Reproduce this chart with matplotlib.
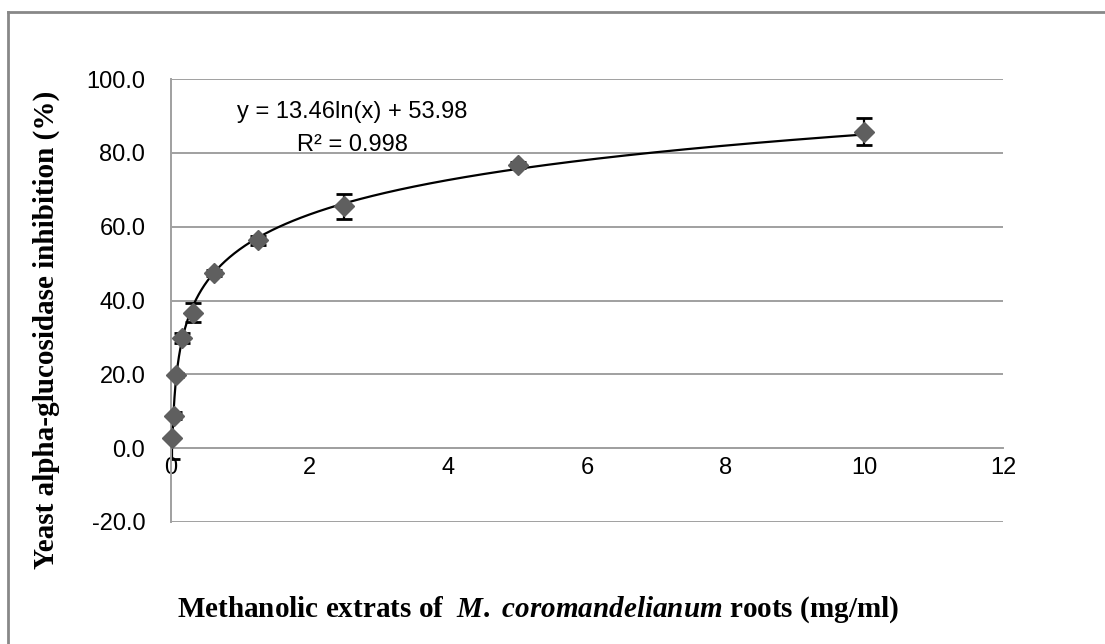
# Alpha-glucosidase inhibition vs extract concentration
import numpy as np
import matplotlib.pyplot as plt
from matplotlib.lines import Line2D

plt.rcParams['mathtext.fontset'] = 'custom'
plt.rcParams['mathtext.it'] = 'Liberation Serif:bold:italic'
plt.rcParams['mathtext.rm'] = 'Liberation Serif:bold'

# data
conc = [0.0195, 0.039, 0.078, 0.156, 0.3125, 0.625, 1.25, 2.5, 5, 10]
inhib = [2.7, 8.8, 19.8, 29.8, 36.7, 47.5, 56.3, 65.5, 76.8, 85.7]
err = [5.7, 1.0, 0.5, 1.3, 2.5, 0.8, 1.2, 3.3, 0.8, 3.7]

# log trendline shown on the chart
slope = 13.46
intercept = 53.98

xticks = [0, 2, 4, 6, 8, 10, 12]
yticks = [-20, 0, 20, 40, 60, 80, 100]

W, H = 1105, 644
fig = plt.figure(figsize=(W / 100, H / 100), dpi=100)

# plot area in pixels
left, right, top, bottom = 171, 1003, 79, 522
ax = fig.add_axes([left / W, 1 - bottom / H, (right - left) / W, (bottom - top) / H])

grid_col = '#a0a0a0'
ax.set_xlim(0, 12)
ax.set_ylim(-20, 100)
ax.set_yticks(yticks)
ax.set_xticks(xticks)
ax.yaxis.grid(True, color=grid_col, linewidth=1.4)
ax.set_axisbelow(True)

for s in ['top', 'right']:
    ax.spines[s].set_visible(False)
ax.spines['left'].set_color(grid_col)
ax.spines['left'].set_linewidth(1.4)
ax.spines['bottom'].set_position(('data', 0))
ax.spines['bottom'].set_color(grid_col)
ax.spines['bottom'].set_linewidth(1.4)

ax.tick_params(axis='both', length=0, labelsize=17)
ax.tick_params(axis='y', pad=18.5)
ax.tick_params(axis='x', pad=6)
ax.set_yticklabels(['%.1f' % v for v in yticks], fontfamily='Liberation Sans')
ax.set_xticklabels([str(v) for v in xticks], fontfamily='Liberation Sans')

# trendline
xs = np.geomspace(conc[0], conc[-1], 400)
ax.plot(xs, slope * np.log(xs) + intercept, color='black', linewidth=1.6, zorder=3)

# points with error bars
ax.errorbar(conc, inhib, yerr=err, fmt='none', ecolor='black',
            elinewidth=1.6, capsize=6, capthick=2, zorder=2)
ax.plot(conc, inhib, linestyle='none', marker='D', markersize=10,
        color='#5f5f5f', zorder=4, clip_on=False)

# equation
fig.text(352 / W, 1 - 112 / H, 'y = 13.46ln(x) + 53.98', ha='center', va='center',
         fontsize=17, fontfamily='Liberation Sans')
fig.text(352 / W, 1 - 145 / H, 'R² = 0.998', ha='center', va='center',
         fontsize=17, fontfamily='Liberation Sans')

# axis titles
fig.text(46 / W, 1 - 330 / H, 'Yeast alpha-glucosidase inhibition (%)', rotation=90,
         ha='center', va='center', fontsize=21, fontweight='bold', fontfamily='Liberation Serif')
fig.text(177 / W, 1 - 610 / H,
         r'Methanolic extrats of  $\mathit{M.}$ $\mathit{coromandelianum}$ roots (mg/ml)',
         ha='left', va='center', fontsize=21, fontweight='bold', fontfamily='Liberation Serif')

# chart border (partly cut off in the original)
fig.add_artist(Line2D([8 / W, 8 / W], [0, 1 - 12 / H], color='#888888', linewidth=2,
                      transform=fig.transFigure))
fig.add_artist(Line2D([8 / W, 1], [1 - 12 / H, 1 - 12 / H], color='#888888', linewidth=2,
                      transform=fig.transFigure))

fig.savefig('out.png', dpi=100)
